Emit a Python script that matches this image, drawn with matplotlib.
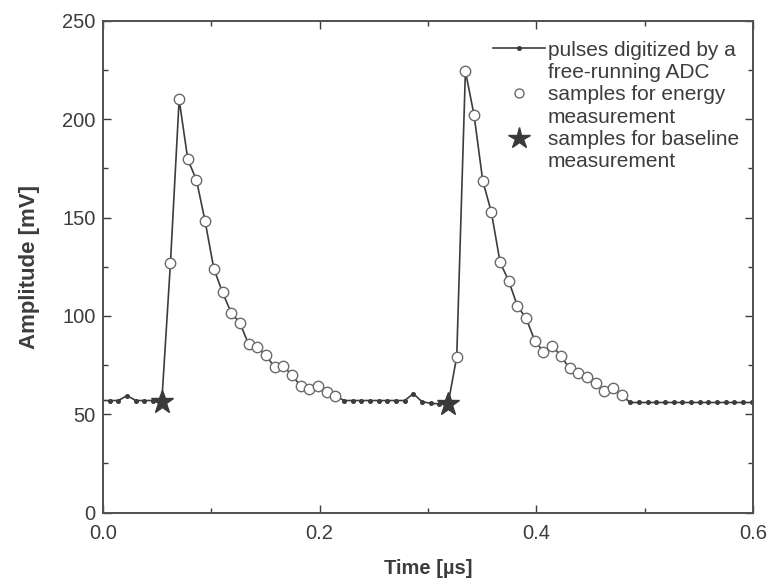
"""
Pulses digitized by a free-running ADC: energy and baseline samples
"""

import matplotlib

matplotlib.use("Agg")
import matplotlib.pyplot as plt
import numpy as np
from matplotlib.lines import Line2D
from matplotlib.ticker import MultipleLocator

# ADC sample period and time of the first sample [us]
SAMPLE_PERIOD = 0.008
FIRST_SAMPLE = -0.0015

# Amplitude of every ADC sample [mV]
amplitude = [
    57, 57, 57, 59.5, 57, 57, 57, 56.4,                      # baseline before pulse 1
    127, 210, 179.5, 169, 148, 124, 112, 101.6, 96.5, 85.7,  # pulse 1
    84, 80, 74, 74.5, 70, 64.4, 63, 64.4, 61.5, 59.5,
    57, 57, 57, 57, 57, 57, 57, 57, 60.5, 56.4, 55.6, 55.3, 55.1,  # baseline
    79.3, 224.4, 202, 168.7, 152.6, 127.2, 117.7, 105, 98.8, 87.4,  # pulse 2
    81.8, 84.9, 79.6, 73.4, 71.1, 68.8, 65.8, 62, 63.5, 59.8,
    56, 56, 56, 56, 56, 56, 56, 56, 56, 56, 56, 56, 56, 56, 56, 56,  # baseline
]

# sample indices used for the energy and the baseline measurement
energy_idx = list(range(8, 28)) + list(range(41, 61))
baseline_idx = [7, 40]

time = FIRST_SAMPLE + SAMPLE_PERIOD * np.arange(len(amplitude))
amp = np.array(amplitude)

INK = "#3c3c3c"
plt.rcParams["font.family"] = ["Liberation Sans", "DejaVu Sans"]

fig = plt.figure(figsize=(7.75, 5.87), dpi=100, facecolor="white")
ax = fig.add_axes([0.1325, 0.1266, 0.8395, 0.838])

ax.plot(time, amp, color=INK, linewidth=1.2, marker="o", markersize=2.6,
        markerfacecolor=INK, markeredgecolor=INK, zorder=2)
ax.plot(time[energy_idx], amp[energy_idx], linestyle="none", marker="o",
        markersize=7.5, markerfacecolor="white", markeredgecolor="#6a6a6a",
        markeredgewidth=1.0, zorder=3)
ax.plot(time[baseline_idx], amp[baseline_idx], linestyle="none", marker="*",
        markersize=17, color="#3a3a3a", zorder=4)

ax.set_xlim(0, 0.6)
ax.set_ylim(0, 250)
ax.xaxis.set_major_locator(MultipleLocator(0.2))
ax.xaxis.set_minor_locator(MultipleLocator(0.1))
ax.yaxis.set_major_locator(MultipleLocator(50))
ax.yaxis.set_minor_locator(MultipleLocator(25))
ax.xaxis.set_major_formatter(plt.FuncFormatter(lambda v, p: f"{v:.1f}"))

ax.tick_params(which="both", direction="in", top=True, right=True,
               colors=INK, width=1.0)
ax.tick_params(which="major", length=6, labelsize=14.5)
ax.tick_params(axis="x", which="major", pad=8)
ax.tick_params(axis="y", which="major", pad=5)
ax.tick_params(which="minor", length=3.5)
for sp in ax.spines.values():
    sp.set_color("#505050")
    sp.set_linewidth(1.4)

ax.set_xlabel("Time [\u00b5s]", fontsize=14.5, weight="bold", color=INK, labelpad=12)
ax.set_ylabel("Amplitude [mV]", fontsize=16, weight="bold", color=INK, labelpad=16)

# legend: handle next to the first line of every two-line label
blank = Line2D([], [], linestyle="none")
handles = [
    Line2D([], [], color=INK, linewidth=1.2, marker="o", markersize=2.6),
    blank,
    Line2D([], [], linestyle="none", marker="o", markersize=6.5,
           markerfacecolor="white", markeredgecolor="#6a6a6a"),
    blank,
    Line2D([], [], linestyle="none", marker="*", markersize=16, color="#3a3a3a"),
    blank,
]
labels = [
    "pulses digitized by a", "free-running ADC",
    "samples for energy", "measurement",
    "samples for baseline", "measurement",
]
leg = ax.legend(handles, labels, loc="upper right", frameon=False,
                bbox_to_anchor=(0.997, 0.985), fontsize=15, handlelength=2.5,
                handletextpad=0.15, labelspacing=0.16, borderaxespad=0.2)
for t in leg.get_texts():
    t.set_color(INK)

fig.savefig("out.png", dpi=100, facecolor="white")
plt.close(fig)
